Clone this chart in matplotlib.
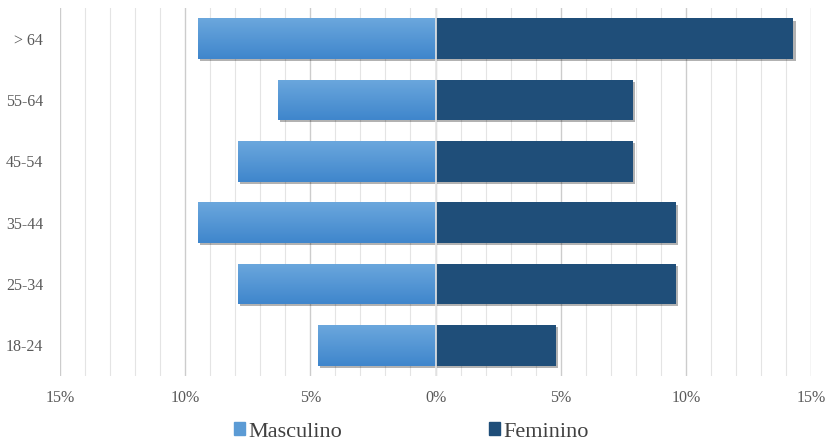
import numpy as np
import matplotlib
matplotlib.use('Agg')
import matplotlib.pyplot as plt
import matplotlib.patheffects as pe
from matplotlib.ticker import FuncFormatter, MultipleLocator
from matplotlib.patches import Patch

# faixas etarias e percentuais por sexo
faixas = ['18-24', '25-34', '35-44', '45-54', '55-64', '> 64']
masculino = [4.7, 7.9, 9.5, 7.9, 6.3, 9.5]
feminino = [4.8, 9.6, 9.6, 7.9, 7.9, 14.3]

plt.rcParams['font.family'] = ['Liberation Serif', 'DejaVu Serif']

fig = plt.figure(figsize=(8.26, 4.47), dpi=100)
ax = fig.add_axes([60/826, 71/447, 751/826, 368/447])

y = np.arange(len(faixas))
h = 0.66
sombra = [pe.SimplePatchShadow(offset=(1.5, -1.5), shadow_rgbFace='k', alpha=0.3), pe.Normal()]

barras_m = ax.barh(y, -np.array(masculino), height=h, color='#5b9bd5', zorder=3)
barras_f = ax.barh(y, feminino, height=h, color='#1f4e79', zorder=3)
for b in list(barras_m) + list(barras_f):
    b.set_path_effects(sombra)

# degrade nas barras masculinas
grad = np.linspace(0, 1, 100).reshape(-1, 1)
cmap = matplotlib.colors.LinearSegmentedColormap.from_list('m', ['#3f86cc', '#6ba7dd'])
for b in barras_m:
    x0, y0 = b.get_x(), b.get_y()
    im = ax.imshow(grad, extent=(x0, x0 + b.get_width(), y0, y0 + b.get_height()),
                   origin='lower', cmap=cmap, aspect='auto', zorder=4)
    im.set_clip_path(b)

ax.axvline(0, color='#e6e6e6', lw=1.2, zorder=5)

ax.set_xlim(-15, 15)
ax.set_ylim(-0.5, len(faixas) - 0.5)
ax.xaxis.set_major_locator(MultipleLocator(5))
ax.xaxis.set_minor_locator(MultipleLocator(1))
ax.xaxis.set_major_formatter(FuncFormatter(lambda v, p: f'{abs(v):.0f}%'))
ax.grid(axis='x', which='major', color='#cccccc', lw=1, zorder=0)
ax.grid(axis='x', which='minor', color='#e4e4e4', lw=0.8, zorder=0)
ax.set_yticks(y)
ax.set_yticklabels(faixas)
ax.tick_params(which='both', length=0, colors='#595959', labelsize=11.5)
ax.tick_params(axis='x', pad=10)
ax.tick_params(axis='y', pad=12)
for s in ax.spines.values():
    s.set_visible(False)

handles = [Patch(color='#5b9bd5', label='Masculino'), Patch(color='#1f4e79', label='Feminino')]
fig.legend(handles=handles, loc='center', bbox_to_anchor=(411/826, 1 - 432/447), ncol=2,
           frameon=False, fontsize=16, handlelength=0.5, handleheight=0.5,
           handletextpad=0.15, columnspacing=6.6, labelcolor='#404040')

fig.savefig('out.png', dpi=100)
